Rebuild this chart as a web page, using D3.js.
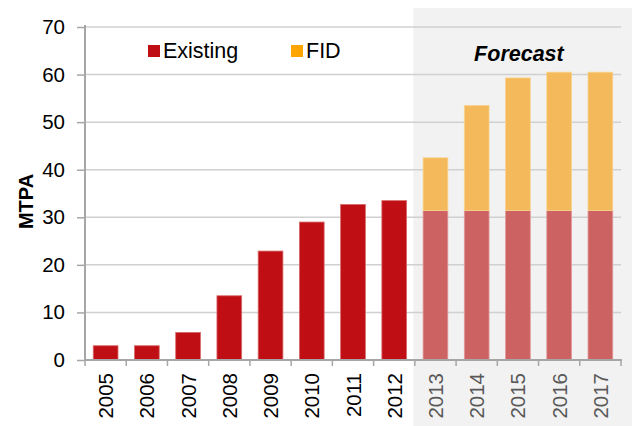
<!DOCTYPE html>
<html><head><meta charset="utf-8">
<script src="https://cdn.jsdelivr.net/npm/d3@7"></script>
<style>body{margin:0;background:#fff}svg{display:block;font-family:"Liberation Sans",Arial,sans-serif}</style>
</head><body><svg id="c" width="632" height="426"></svg>
<script>
const years = ["2005","2006","2007","2008","2009","2010","2011","2012","2013","2014","2015","2016","2017"];
const existing = [3, 3, 5.8, 13.5, 22.9, 29, 32.7, 33.5, 31.4, 31.4, 31.4, 31.4, 31.4];
const fid = [0, 0, 0, 0, 0, 0, 0, 0, 11.1, 22.1, 27.9, 29.1, 29.1];
const forecastYears = ["2013","2014","2015","2016","2017"];
const yTicks = [0,10,20,30,40,50,60,70];

const svg = d3.select("#c");
const L = 85, R = 621, T = 27, B = 360;
const x = d3.scaleBand().domain(years).range([L, R]).paddingInner(0.4).paddingOuter(0.2);
const y = d3.scaleLinear().domain([0,70]).range([B, T]);
const isF = d => forecastYears.includes(d);

// forecast shading
const fx0 = L + x.step()*years.indexOf(forecastYears[0]) - 1.5;
svg.append("rect").attr("x", fx0).attr("y", 8).attr("width", 632 - fx0).attr("height", 426-8).attr("fill", "#f2f2f2");

// grid
svg.append("g").selectAll("line").data(yTicks.filter(d=>d>0)).join("line")
  .attr("x1", L).attr("x2", R).attr("y1", d=>y(d)).attr("y2", d=>y(d))
  .attr("stroke", "#d0d0d0").attr("stroke-width", 1.5);

// bars
const data = years.map((yr,i)=>({yr, e: existing[i], f: fid[i]}));
svg.append("g").selectAll("rect").data(data).join("rect")
  .attr("x", d=>x(d.yr)).attr("width", x.bandwidth())
  .attr("y", d=>y(d.e)).attr("height", d=>y(0)-y(d.e))
  .attr("fill", d=>isF(d.yr) ? "#cd6262" : "#c00f14")
  .attr("stroke", d=>isF(d.yr) ? "#e39a9a" : "#d86a6a").attr("stroke-width", 0.8);
svg.append("g").selectAll("rect").data(data.filter(d=>d.f>0)).join("rect")
  .attr("x", d=>x(d.yr)).attr("width", x.bandwidth())
  .attr("y", d=>y(d.e+d.f)).attr("height", d=>y(d.e)-y(d.e+d.f))
  .attr("fill", "#f4b95a").attr("stroke", "#f8d38f").attr("stroke-width", 0.8);

// y axis
const ya = svg.append("g").attr("transform", `translate(${L},0)`)
  .call(d3.axisLeft(y).tickValues(yTicks).tickSize(8).tickPadding(12));
ya.select(".domain").attr("stroke", "#a6a6a6").attr("stroke-width", 2).attr("d", `M0,${T-2}V${B}`);
ya.selectAll(".tick line").attr("stroke", "#a6a6a6").attr("stroke-width", 1.5);
ya.selectAll(".tick text").attr("font-size", 20.5).attr("fill", "#000").attr("font-family", "Liberation Sans, Arial, sans-serif");

// x axis
const xa = svg.append("g").attr("transform", `translate(0,${B})`);
xa.append("line").attr("x1", L).attr("x2", R+1).attr("y1", 0).attr("y2", 0).attr("stroke", "#a6a6a6").attr("stroke-width", 2);
const bounds = d3.range(years.length+1).map(i => L + i*x.step());
xa.selectAll("line.t").data(bounds).join("line").attr("class","t")
  .attr("x1", d=>d).attr("x2", d=>d).attr("y1", 0).attr("y2", 6)
  .attr("stroke", "#a6a6a6").attr("stroke-width", 1.5);
xa.selectAll("text").data(years).join("text")
  .attr("transform", d=>`translate(${x(d)+x.bandwidth()/2+7.5},${13}) rotate(-90)`)
  .attr("text-anchor", "end").attr("font-size", 20.5)
  .attr("fill", d=>isF(d) ? "#595959" : "#000").text(d=>d);

// y label
svg.append("text").attr("transform", `translate(33,${(T+B)/2+8}) rotate(-90)`)
  .attr("text-anchor", "middle").attr("font-weight", "bold").attr("font-size", 20).text("MTPA");

// legend
const leg = [{n:"Existing", c:"#c00f14", x:148}, {n:"FID", c:"#ffa500", x:291}];
const lg = svg.append("g").selectAll("g").data(leg).join("g").attr("transform", d=>`translate(${d.x},0)`);
lg.append("rect").attr("x",0).attr("y",45).attr("width",12).attr("height",12).attr("fill", d=>d.c);
lg.append("text").attr("x",15).attr("y",58).attr("font-size",21.5).text(d=>d.n);

// forecast label
svg.append("text").attr("x", (x("2013")+x("2017")+x.bandwidth())/2 + 1).attr("y", 61)
  .attr("text-anchor","middle").attr("font-weight","bold").attr("font-style","italic").attr("font-size",21.5).text("Forecast");
</script></body></html>
